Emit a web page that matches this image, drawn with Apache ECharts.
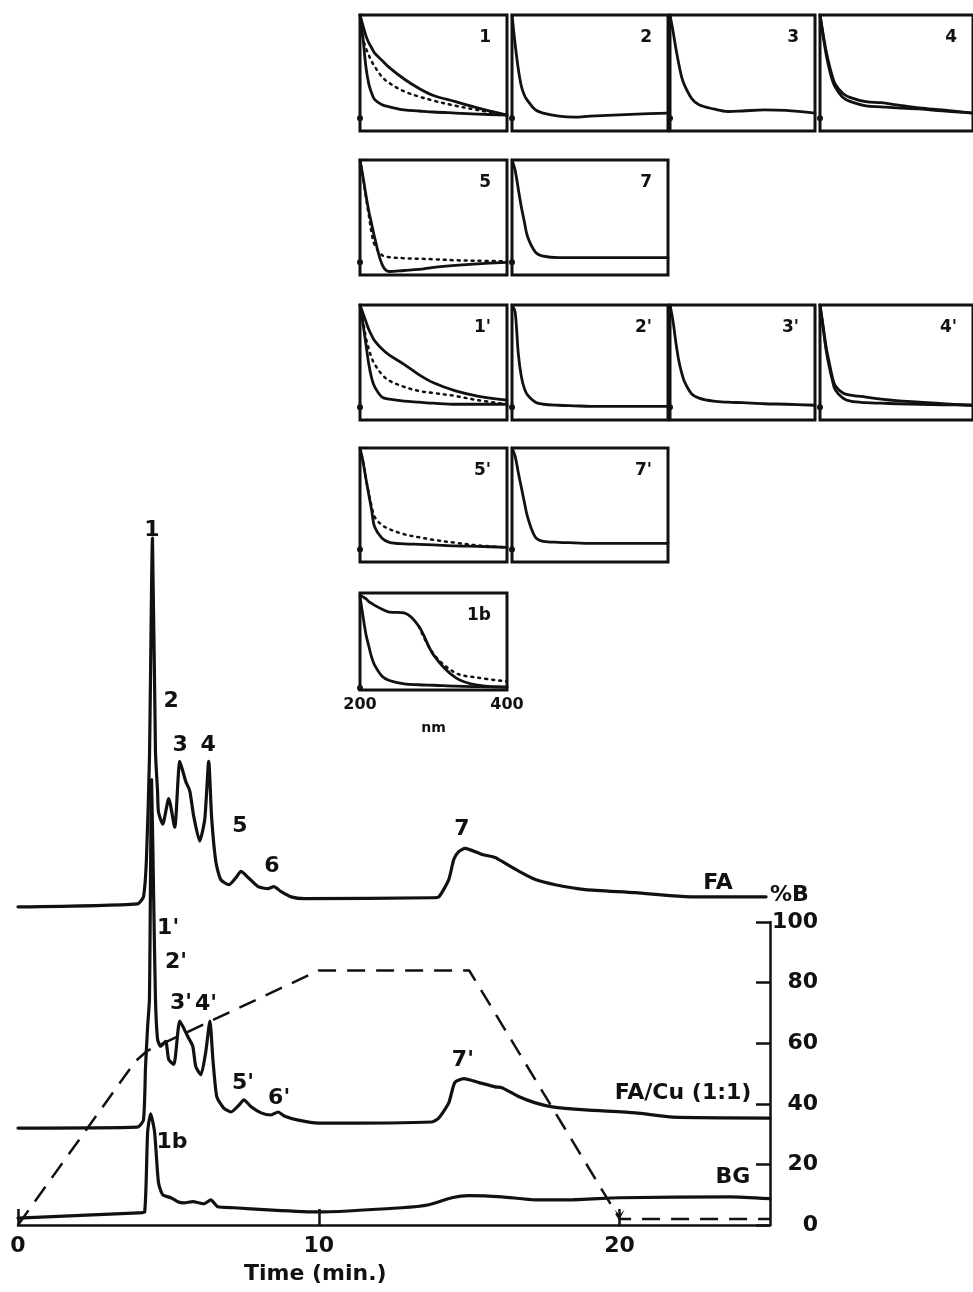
<!DOCTYPE html>
<html>
<head>
<meta charset="utf-8">
<script src="https://cdn.jsdelivr.net/npm/echarts@6/dist/echarts.min.js"></script>
<style>
html,body{margin:0;padding:0;background:#fff}
#chart{width:973px;height:1292px}
</style>
</head>
<body>
<div id="chart"></div>
<script>
// ---- Chromatograms (time in min, absorbance in arbitrary units above each trace's baseline)
const timeFA = [0, 3.97, 4.17, 4.27, 4.37, 4.47, 4.57, 4.64, 4.67, 4.81, 5.01, 5.21, 5.38, 5.58, 5.71, 5.84, 6.04, 6.21, 6.34, 6.44, 6.58, 6.74, 7.01, 7.25, 7.41, 7.65, 7.98, 8.31, 8.51, 8.75, 9.08, 9.52, 13.76, 13.99, 14.32, 14.49, 14.66, 14.86, 15.43, 15.86, 16.09, 16.66, 17.2, 17.86, 18.86, 20.53, 21.67, 22.54, 24.87];
const absFA  = [-1.0, 0, 2.3, 14.7, 48, 120.7, 50.3, 37, 30.3, 26.3, 34.7, 25.3, 47, 40.3, 37.3, 29, 20.7, 28, 47, 28, 13.7, 8, 6.3, 8.7, 10.7, 8.7, 5.7, 5, 5.7, 4, 2.3, 1.7, 2, 2.3, 8, 14.7, 17.3, 18.3, 16.3, 15.3, 14, 10.7, 8, 6.3, 4.7, 3.7, 2.7, 2.3, 2.3];

const timeFACu = [0, 3.97, 4.17, 4.24, 4.31, 4.37, 4.44, 4.51, 4.57, 4.64, 4.74, 4.91, 5.01, 5.18, 5.38, 5.64, 5.81, 5.91, 6.08, 6.24, 6.38, 6.48, 6.61, 6.84, 7.08, 7.35, 7.51, 7.75, 8.08, 8.41, 8.65, 8.85, 9.32, 9.98, 13.76, 13.99, 14.32, 14.52, 14.82, 15.33, 15.86, 16.09, 16.66, 17.2, 17.76, 18.86, 20.53, 21.77, 25.0];
const absFACu  = [-0.3, 0, 2.3, 20, 33.3, 42.3, 114.7, 75.7, 42.3, 29, 26.7, 28.3, 22.3, 20.7, 35, 30, 26.7, 20, 17.3, 24.7, 35, 22.3, 10, 6.3, 5, 7.3, 9, 6.7, 4.7, 4, 5, 3.7, 2.3, 1.3, 1.7, 3, 8, 14.7, 16, 14.7, 13.3, 13, 10, 8, 6.7, 5.7, 4.7, 3.3, 3];

const timeBG = [0, 4.01, 4.21, 4.31, 4.41, 4.54, 4.67, 4.81, 5.08, 5.31, 5.51, 5.81, 6.18, 6.41, 6.64, 7.18, 8.31, 9.98, 12.75, 13.66, 14.42, 14.99, 16.09, 17.2, 18.33, 20.0, 23.67, 25.0];
const absBG  = [-1.7, 0, 0.3, 26.7, 32.7, 26.7, 10, 6, 5, 3.7, 3.3, 3.7, 3, 4.3, 2, 1.7, 1, 0.3, 1.7, 2.7, 5, 5.7, 5.3, 4.3, 4.3, 5, 5.3, 4.7];

// ---- Solvent gradient (%B)
const gradTime = [0, 3.9, 4.3, 10, 15, 20, 25];
const gradB    = [0, 54, 57.5, 84, 84, 2, 2];

// ---- Tick labels
const timeTicks = [0, 10, 20];
const nmTicks = [200, 400];

// ---- UV spectra (normalised absorbance) on a shared wavelength grid, nm
const wavelengths = [200, 204, 208, 212, 216, 220, 230, 240, 260, 280, 300, 330, 360, 400];
const spec1Upper   = [1.0, 0.90, 0.80, 0.73, 0.68, 0.63, 0.56, 0.49, 0.38, 0.29, 0.22, 0.16, 0.10, 0.03];
const spec1Dotted  = [1.0, 0.78, 0.68, 0.61, 0.55, 0.50, 0.40, 0.34, 0.26, 0.21, 0.17, 0.12, 0.08, 0.03];
const spec1Lower   = [1.0, 0.78, 0.50, 0.33, 0.24, 0.18, 0.13, 0.11, 0.08, 0.07, 0.06, 0.05, 0.04, 0.03];
const spec2        = [1.0, 0.72, 0.48, 0.31, 0.22, 0.17, 0.08, 0.05, 0.02, 0.01, 0.02, 0.03, 0.04, 0.05];
const spec3        = [1.0, 0.85, 0.68, 0.53, 0.40, 0.32, 0.19, 0.13, 0.09, 0.065, 0.07, 0.08, 0.075, 0.05];
const spec4Upper   = [1.0, 0.82, 0.65, 0.52, 0.41, 0.33, 0.24, 0.20, 0.16, 0.15, 0.13, 0.10, 0.08, 0.05];
const spec4Lower   = [1.0, 0.80, 0.62, 0.48, 0.37, 0.30, 0.20, 0.16, 0.12, 0.11, 0.10, 0.09, 0.07, 0.05];
const spec5        = [1.0, 0.84, 0.66, 0.50, 0.37, 0.24, -0.02, -0.09, -0.08, -0.07, -0.05, -0.03, -0.015, 0];
const spec5Dotted  = [1.0, 0.84, 0.64, 0.46, 0.28, 0.17, 0.07, 0.05, 0.04, 0.035, 0.03, 0.02, 0.015, 0.01];
const spec7        = [1.0, 0.90, 0.72, 0.54, 0.39, 0.25, 0.10, 0.06, 0.045, 0.045, 0.045, 0.045, 0.045, 0.045];
const spec1pUpper  = [1.0, 0.92, 0.84, 0.76, 0.70, 0.65, 0.57, 0.51, 0.42, 0.32, 0.24, 0.16, 0.11, 0.07];
const spec1pDotted = [1.0, 0.85, 0.68, 0.57, 0.48, 0.42, 0.32, 0.26, 0.20, 0.16, 0.14, 0.11, 0.07, 0.03];
const spec1pLower  = [1.0, 0.82, 0.62, 0.42, 0.28, 0.20, 0.10, 0.08, 0.06, 0.05, 0.04, 0.03, 0.03, 0.03];
const spec2p       = [1.0, 0.93, 0.53, 0.30, 0.18, 0.12, 0.05, 0.03, 0.02, 0.015, 0.01, 0.01, 0.01, 0.01];
const spec3p       = [1.0, 0.85, 0.64, 0.46, 0.34, 0.25, 0.13, 0.09, 0.06, 0.05, 0.045, 0.035, 0.03, 0.02];
const spec4pUpper  = [1.0, 0.80, 0.59, 0.44, 0.30, 0.21, 0.14, 0.12, 0.10, 0.08, 0.065, 0.05, 0.035, 0.02];
const spec4pLower  = [1.0, 0.78, 0.56, 0.40, 0.27, 0.17, 0.09, 0.06, 0.045, 0.04, 0.035, 0.03, 0.025, 0.02];
const spec5p       = [1.0, 0.87, 0.70, 0.54, 0.38, 0.22, 0.11, 0.07, 0.055, 0.05, 0.045, 0.035, 0.03, 0.02];
const spec5pDotted = [1.0, 0.87, 0.70, 0.55, 0.42, 0.32, 0.24, 0.20, 0.15, 0.12, 0.095, 0.065, 0.04, 0.02];
const spec7p       = [1.0, 0.92, 0.76, 0.61, 0.46, 0.32, 0.12, 0.08, 0.07, 0.065, 0.06, 0.06, 0.06, 0.06];
const spec1bUpper  = [0.98, 0.96, 0.94, 0.91, 0.89, 0.87, 0.83, 0.80, 0.79, 0.65, 0.35, 0.11, 0.03, 0.01];
const spec1bDotted = [null, null, null, null, null, null, null, null, null, 0.65, 0.36, 0.16, 0.11, 0.07];
const spec1bLower  = [0.96, 0.76, 0.57, 0.44, 0.32, 0.24, 0.125, 0.08, 0.045, 0.035, 0.03, 0.02, 0.015, 0.01];

// ---- Drawing
const FONT = 'DejaVu Sans';
const INK = '#111';
const W = 973;
const TXT = {color: INK, fontFamily: FONT, fontWeight: 'bold', fontSize: 22};

const grids = [], xAxes = [], yAxes = [], series = [], titles = [];

// main chromatogram panel
grids.push({left: 18, right: W - 770, top: 922, bottom: 1292 - 1225});
xAxes.push({
  type: 'value', gridIndex: 0, min: 0, max: 25,
  axisLine: {onZero: false, lineStyle: {color: INK, width: 2.5}},
  axisTick: {inside: true, length: 16, customValues: timeTicks, lineStyle: {color: INK, width: 2.5}},
  axisLabel: Object.assign({customValues: timeTicks, margin: 10}, TXT),
  splitLine: {show: false}
});
yAxes.push({
  type: 'value', gridIndex: 0, position: 'right', min: 0, max: 100, interval: 20,
  name: '%B', nameLocation: 'end', nameGap: 16,
  nameTextStyle: Object.assign({align: 'left'}, TXT),
  axisLine: {show: true, onZero: false, lineStyle: {color: INK, width: 2.5}},
  axisTick: {show: true, inside: true, length: 14, lineStyle: {color: INK, width: 2.5}},
  axisLabel: Object.assign({margin: 48, align: 'right'}, TXT),
  splitLine: {show: false}
});
// hidden absorbance scale for the stacked traces
yAxes.push({type: 'value', gridIndex: 0, position: 'left', min: 0, max: 100, show: false});

const traceOffsets = {FA: 106, FACu: 32.3, BG: 4};
function stacked(ts, vs, off) { return ts.map((t, i) => [t, vs[i] + off]); }
function trace(name, ts, vs, off) {
  return {
    type: 'line', name, xAxisIndex: 0, yAxisIndex: 1, data: stacked(ts, vs, off),
    showSymbol: false, smooth: 0.2, clip: false, silent: true,
    lineStyle: {color: INK, width: 3.2, cap: 'round', join: 'round'}
  };
}
series.push(trace('FA', timeFA, absFA, traceOffsets.FA));
series.push(trace('FA/Cu (1:1)', timeFACu, absFACu, traceOffsets.FACu));
series.push(trace('BG', timeBG, absBG, traceOffsets.BG));

series.push({
  type: 'line', name: '%B', xAxisIndex: 0, yAxisIndex: 0,
  data: gradTime.map((t, i) => [t, gradB[i]]),
  showSymbol: false, clip: false, silent: true,
  lineStyle: {color: INK, width: 2.5, type: [18, 11]},
  markPoint: {
    silent: true, symbol: 'path://M0,0 L5,9 L10,0 L5,5 Z', symbolSize: [10, 10],
    itemStyle: {color: INK}, label: {show: false},
    data: [{coord: [gradTime[5], gradB[5] + 1.5]}]
  }
});

// peak and trace annotations, anchored in chromatogram units
const annotations = [
  ['1', 4.45, 229.4], ['2', 5.09, 172.9], ['3', 5.39, 158.4], ['4', 6.32, 158.4],
  ['5', 7.38, 131.7], ['6', 8.44, 118.5], ['7', 14.76, 130.7], ['FA', 23.27, 112.9],
  ["1'", 4.99, 98.0], ["2'", 5.25, 86.8], ["3'", 5.42, 73.3], ["4'", 6.25, 72.9],
  ["5'", 7.48, 46.9], ["6'", 8.68, 41.9], ["7'", 14.79, 54.5], ['FA/Cu (1:1)', 22.11, 43.6],
  ['1b', 5.12, 27.4], ['BG', 23.77, 15.8]
];
series.push({
  type: 'scatter', xAxisIndex: 0, yAxisIndex: 1, symbolSize: 1, clip: false, silent: true,
  itemStyle: {color: 'rgba(0,0,0,0)', opacity: 1},
  data: annotations.map(a => ({name: a[0], value: [a[1], a[2]]})),
  label: Object.assign({show: true, position: 'inside', formatter: '{b}', opacity: 1}, TXT)
});

// ---- spectrum insets
const colX = [360, 512, 670, 820];
const colW = [147, 156, 145, 158];
const rowY = [15, 160, 305, 448, 593];
const rowH = [116, 115, 115, 114, 97];
const S = 'solid', D = 'dotted';
const panels = [
  {label: '1',  r: 0, c: 0, curves: [[spec1Upper, S], [spec1Dotted, D], [spec1Lower, S]]},
  {label: '2',  r: 0, c: 1, curves: [[spec2, S]]},
  {label: '3',  r: 0, c: 2, curves: [[spec3, S]]},
  {label: '4',  r: 0, c: 3, curves: [[spec4Upper, S], [spec4Lower, S]]},
  {label: '5',  r: 1, c: 0, curves: [[spec5Dotted, D], [spec5, S]]},
  {label: '7',  r: 1, c: 1, curves: [[spec7, S]]},
  {label: "1'", r: 2, c: 0, curves: [[spec1pUpper, S], [spec1pDotted, D], [spec1pLower, S]]},
  {label: "2'", r: 2, c: 1, curves: [[spec2p, S]]},
  {label: "3'", r: 2, c: 2, curves: [[spec3p, S]]},
  {label: "4'", r: 2, c: 3, curves: [[spec4pUpper, S], [spec4pLower, S]]},
  {label: "5'", r: 3, c: 0, curves: [[spec5pDotted, D], [spec5p, S]]},
  {label: "7'", r: 3, c: 1, curves: [[spec7p, S]]},
  {label: '1b', r: 4, c: 0, curves: [[spec1bDotted, D], [spec1bUpper, S], [spec1bLower, S]], scaled: true}
];

panels.forEach((p, k) => {
  const gi = k + 1;
  const left = colX[p.c], top = rowY[p.r], width = colW[p.c], height = rowH[p.r];
  grids.push({left, top, width, height, show: true, borderColor: INK, borderWidth: 3, backgroundColor: 'transparent'});
  const isScale = !!p.scaled;
  xAxes.push({
    type: 'value', gridIndex: gi, min: 200, max: 400, show: isScale,
    name: isScale ? 'nm' : '', nameLocation: 'middle', nameGap: 31,
    nameTextStyle: {color: INK, fontFamily: FONT, fontWeight: 'bold', fontSize: 14},
    axisLine: {show: false}, axisTick: {show: false}, splitLine: {show: false},
    axisLabel: {customValues: nmTicks, color: INK, fontFamily: FONT, fontWeight: 'bold', fontSize: 16, margin: 7}
  });
  yAxes.push({type: 'value', gridIndex: gi, min: isScale ? -0.02 : -0.124, max: 1.0, show: false});
  p.curves.forEach(([vals, kind]) => {
    series.push({
      type: 'line', xAxisIndex: gi, yAxisIndex: gi + 1,
      data: wavelengths.map((w, i) => [w, vals[i]]),
      showSymbol: false, smooth: 0.35, silent: true, connectNulls: false,
      lineStyle: kind === D
        ? {color: INK, width: 2.5, type: [2, 5], cap: 'round'}
        : {color: INK, width: 2.8, cap: 'round', join: 'round'}
    });
  });
  series.push({
    type: 'scatter', xAxisIndex: gi, yAxisIndex: gi + 1, symbolSize: 6, silent: true, clip: false,
    itemStyle: {color: INK, opacity: 1}, data: [[200, 0]]
  });
  const rightEdge = Math.min(left + width, W);
  titles.push({
    text: p.label, right: W - rightEdge + 16, top: top + 14, padding: 0,
    textStyle: {color: INK, fontFamily: FONT, fontSize: 17, fontWeight: 'bold'}
  });
});

const chart = echarts.init(document.getElementById('chart'), null, {renderer: 'canvas'});
chart.setOption({
  animation: false,
  backgroundColor: '#fff',
  title: titles,
  grid: grids,
  xAxis: xAxes,
  yAxis: yAxes,
  series: series,
  graphic: [{
    type: 'text', left: 244, top: 1263, silent: true,
    style: {text: 'Time (min.)', fill: INK, font: 'bold 22px "DejaVu Sans"'}
  }]
});
</script>
</body>
</html>
